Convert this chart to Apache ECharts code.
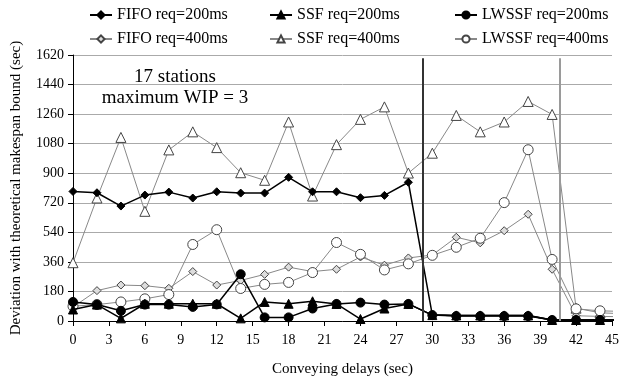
<!DOCTYPE html>
<html>
<head>
<meta charset="utf-8">
<script src="https://cdn.jsdelivr.net/npm/echarts@6/dist/echarts.min.js"></script>
<style>html,body{margin:0;padding:0;background:#fff;}#c{width:623px;height:382px;}</style>
</head>
<body>
<div id="c"></div>
<script>
// Conveying delays (sec); last point lies past the axis end and is clipped
var delays = [0,2,4,6,8,10,12,14,16,18,20,22,24,26,28,30,32,34,36,38,40,42,44,46];
var fifo200  = [789,781,700,767,785,749,787,779,779,875,787,787,751,765,845,36,34,34,34,34,6,6,6,6];
var ssf200   = [70,100,16,105,105,105,105,16,116,105,120,104,12,76,104,36,34,34,34,34,6,6,6,6];
var lwssf200 = [116,100,62,100,100,86,101,285,22,22,76,104,112,100,104,36,30,30,30,30,6,6,6,6];
var fifo400  = [85,185,219,215,199,301,219,247,284,328,301,315,390,340,384,402,510,476,550,650,315,32,28,26];
var ssf400   = [355,749,1118,668,1042,1152,1056,903,857,1212,761,1074,1228,1304,901,1022,1252,1152,1212,1337,1258,78,50,44];
var lwssf400 = [90,100,116,135,161,466,556,198,223,235,295,478,406,311,348,400,449,504,721,1043,375,74,62,58];
var seriesNames = ['FIFO req=200ms','SSF req=200ms','LWSSF req=200ms','FIFO req=400ms','SSF req=400ms','LWSSF req=400ms'];
var xTicks = {min:0, max:45, step:3};
var yTicks = {min:0, max:1620, step:180};
var dividers = [29.2, 40.65];
var noteLines = ['17 stations','maximum WIP = 3'];

function pts(v){ return delays.map(function(d,i){ return [d, v[i]]; }); }
var FONT = 'Liberation Serif';

var styles = [
  {sym:'diamond', size:8, fill:'#000', border:'#000', line:'#000', lw:1.5},
  {sym:'triangle', size:9, fill:'#000', border:'#000', line:'#000', lw:1.5},
  {sym:'circle', size:9, fill:'#000', border:'#000', line:'#000', lw:1.5},
  {sym:'diamond', size:8, fill:'#ddd', border:'#444', line:'#888', lw:1},
  {sym:'triangle', size:10, fill:'#fff', border:'#444', line:'#888', lw:1},
  {sym:'circle', size:10, fill:'#fff', border:'#444', line:'#888', lw:1}
];
var values = [fifo200, ssf200, lwssf200, fifo400, ssf400, lwssf400];
var order = [4,3,5,0,1,2];

var series = order.map(function(k){
  var s = styles[k];
  return {
    name: seriesNames[k], type:'line', data: pts(values[k]),
    symbol: s.sym, symbolSize: s.size, showAllSymbol:true, clip:true,
    itemStyle:{color:s.fill, borderColor:s.border, borderWidth:1},
    lineStyle:{color:s.line, width:s.lw},
    z: k < 3 ? 4 : 3
  };
});
series.push({
  type:'line', data:[], silent:true,
  markLine:{silent:true, symbol:'none', label:{show:false},
    data:[
      [{coord:[dividers[0],1600], lineStyle:{color:'#333', width:2, type:'solid'}},{coord:[dividers[0],0]}],
      [{coord:[dividers[1],1600], lineStyle:{color:'#9a9a9a', width:2, type:'solid'}},{coord:[dividers[1],0]}]
    ]}
});

var legPos = [[84,2],[264,2],[449,2],[84,26],[264,26],[449,26]];
var legends = seriesNames.map(function(n,i){
  return {data:[n], left:legPos[i][0], top:legPos[i][1], itemWidth:22, itemHeight:9, itemGap:4,
    textStyle:{fontFamily:FONT, fontSize:16, color:'#000'}, selectedMode:false};
});

var chart = echarts.init(document.getElementById('c'), null, {renderer:'canvas'});
chart.setOption({
  animation:false,
  backgroundColor:'#fff',
  legend: legends,
  grid:{left:73, right:11, top:55, bottom:56, containLabel:false},
  xAxis:{type:'value', min:xTicks.min, max:xTicks.max, interval:xTicks.step,
    name:'Conveying delays (sec)', nameLocation:'middle', nameGap:41,
    nameTextStyle:{fontFamily:FONT, fontSize:15, color:'#000'},
    axisLine:{lineStyle:{color:'#000', width:1}},
    axisTick:{show:true, length:5, lineStyle:{color:'#000'}},
    axisLabel:{fontFamily:FONT, fontSize:14, color:'#000', margin:12},
    splitLine:{show:false}},
  yAxis:{type:'value', min:yTicks.min, max:yTicks.max, interval:yTicks.step,
    name:'Deviation with theoretical makespan bound (sec)', nameLocation:'middle', nameGap:49,
    nameTextStyle:{fontFamily:FONT, fontSize:15, color:'#000'},
    axisLine:{show:true, lineStyle:{color:'#000', width:1}},
    axisTick:{show:true, length:5, lineStyle:{color:'#000'}},
    axisLabel:{fontFamily:FONT, fontSize:14, color:'#000', margin:9, formatter:function(v){return String(v);}},
    splitLine:{show:true, lineStyle:{color:'#aaa', width:1}}},
  graphic:[
    {type:'text', style:{text:noteLines[0], x:175, y:77, textAlign:'center', textVerticalAlign:'middle', fontFamily:FONT, fontSize:19, fill:'#000'}},
    {type:'text', style:{text:noteLines[1], x:175, y:98, textAlign:'center', textVerticalAlign:'middle', fontFamily:FONT, fontSize:19, fill:'#000'}}
  ],
  series: series
});
</script>
</body>
</html>
